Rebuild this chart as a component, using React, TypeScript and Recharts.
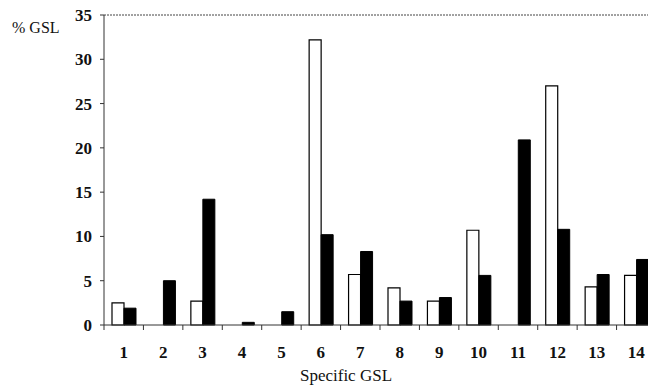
import { Bar, BarChart, ReferenceLine, XAxis, YAxis } from 'recharts'

const CATEGORIES = ['1', '2', '3', '4', '5', '6', '7', '8', '9', '10', '11', '12', '13', '14']
const OPEN_VALUES = [2.5, 0, 2.7, 0, 0, 32.2, 5.7, 4.2, 2.7, 10.7, 0, 27.0, 4.3, 5.6]
const FILLED_VALUES = [1.9, 5.0, 14.2, 0.3, 1.5, 10.2, 8.3, 2.7, 3.1, 5.6, 20.9, 10.8, 5.7, 7.4]
const Y_TICKS = [0, 5, 10, 15, 20, 25, 30, 35]

const data = CATEGORIES.map((name, i) => ({ name, open: OPEN_VALUES[i], filled: FILLED_VALUES[i] }))

const SERIF = 'Liberation Serif, Times New Roman, Times, DejaVu Serif, serif'
const CHART_W = 658
const CHART_H = 386
const MARGIN = { top: 15, right: 2, left: 0, bottom: 31 }
const YAXIS_W = 104
const BAND = (CHART_W - MARGIN.left - MARGIN.right - YAXIS_W) / CATEGORIES.length

// tick marks sit on the category boundaries, labels on the centres
function CategoryTick(props: any) {
  const { x, y, payload } = props
  return (
    <g>
      <line x1={x - BAND / 2} y1={y} x2={x - BAND / 2} y2={y + 5} stroke="#333" />
      <text x={x} y={y + 33} textAnchor="middle" fontFamily={SERIF} fontWeight="bold" fontSize={17} fill="#111">
        {payload.value}
      </text>
    </g>
  )
}

export default function App() {
  // the original figure is cropped on the right, so the chart is wider than the frame
  return (
    <div style={{ position: 'absolute', left: 0, top: 0, width: 648, height: CHART_H, overflow: 'hidden', background: '#fff' }}>
      <BarChart width={CHART_W} height={CHART_H} data={data} margin={MARGIN} barGap={0}>
        <ReferenceLine y={35} stroke="#444" strokeDasharray="2 1" />
        <XAxis
          dataKey="name"
          tick={<CategoryTick />}
          tickLine={false}
          tickSize={0}
          tickMargin={0}
          axisLine={{ stroke: '#333' }}
          height={30}
          interval={0}
        />
        <YAxis
          domain={[0, 35]}
          ticks={Y_TICKS}
          width={YAXIS_W}
          tickSize={4}
          tickMargin={8}
          tickLine={{ stroke: '#333' }}
          axisLine={{ stroke: '#333' }}
          tick={{ fontFamily: SERIF, fontWeight: 'bold', fontSize: 17, fill: '#111' }}
        />
        <Bar dataKey="open" fill="#fff" stroke="#000" strokeWidth={1.2} barSize={12} isAnimationActive={false} />
        <Bar dataKey="filled" fill="#000" stroke="#000" strokeWidth={1} barSize={12} isAnimationActive={false} />
      </BarChart>
      <div style={{ position: 'absolute', left: 12, top: 20, fontFamily: SERIF, fontSize: 16, lineHeight: '16px', color: '#111' }}>
        % GSL
      </div>
      <div
        style={{
          position: 'absolute',
          left: 258,
          width: 176,
          top: 367,
          textAlign: 'center',
          fontFamily: SERIF,
          fontSize: 17,
          lineHeight: '17px',
          color: '#111',
          whiteSpace: 'nowrap',
        }}
      >
        Specific GSL
      </div>
    </div>
  )
}
